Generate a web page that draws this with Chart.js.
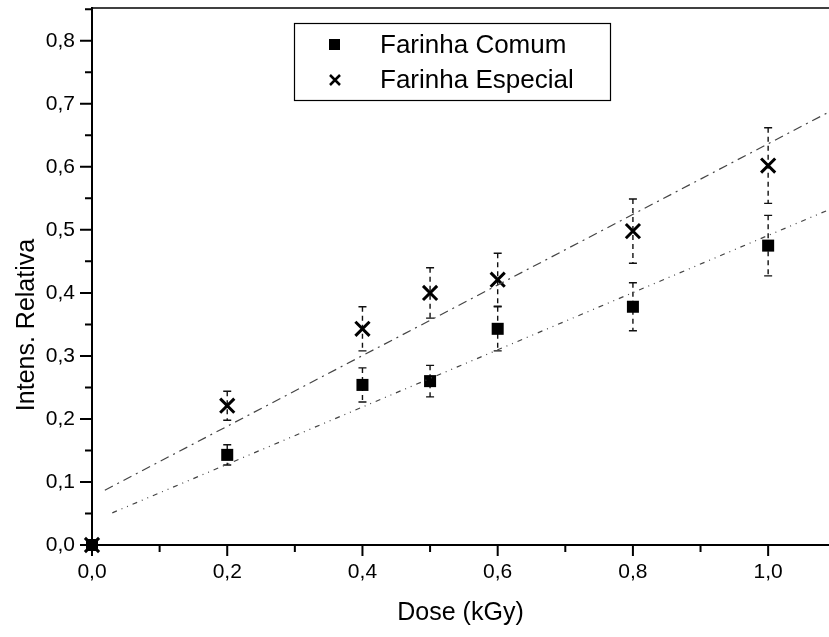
<!DOCTYPE html>
<html>
<head>
<meta charset="utf-8">
<script src="https://cdn.jsdelivr.net/npm/chart.js@4/dist/chart.umd.min.js"></script>
<style>
  html, body { margin: 0; padding: 0; background: #fff; }
  #wrap { width: 829px; height: 637px; position: relative; }
</style>
</head>
<body>
<div id="wrap"><canvas id="chart"></canvas></div>
<script>
// Data
const doses = [0.0, 0.2, 0.4, 0.5, 0.6, 0.8, 1.0];
const comumValues = [0.0, 0.143, 0.254, 0.260, 0.343, 0.378, 0.475];
const comumErrors = [0.0, 0.016, 0.027, 0.025, 0.035, 0.038, 0.048];
const especialValues = [0.0, 0.221, 0.343, 0.400, 0.421, 0.498, 0.602];
const especialErrors = [0.0, 0.023, 0.035, 0.040, 0.042, 0.051, 0.060];

// Linear fits (end points as drawn)
const fitComumX = [0.03, 1.09];
const fitComumY = [0.051, 0.532];
const fitEspecialX = [0.019, 1.09];
const fitEspecialY = [0.087, 0.687];

const seriesLabels = ["Farinha Comum", "Farinha Especial"];
const xTitle = "Dose (kGy)";
const yTitle = "Intens. Relativa";

const FONT = "'Liberation Sans', Arial, sans-serif";

const pts = (xs, ys) => xs.map((x, i) => ({ x: x, y: ys[i] }));
const comma = v => v.toFixed(1).replace(".", ",");

// error bars, drawn under the markers
const errorBars = {
    id: "errorBars",
    beforeDatasetsDraw(chart) {
        const { ctx, scales: { x, y } } = chart;
        const sets = [[comumValues, comumErrors], [especialValues, especialErrors]];
        ctx.save();
        ctx.strokeStyle = "#111";
        ctx.lineWidth = 1.4;
        sets.forEach(([vals, errs]) => {
            doses.forEach((d, i) => {
                if (!errs[i]) return;
                const px = x.getPixelForValue(d);
                const top = y.getPixelForValue(vals[i] + errs[i]);
                const bot = y.getPixelForValue(vals[i] - errs[i]);
                ctx.setLineDash([5, 4]);
                ctx.beginPath();
                ctx.moveTo(px, top);
                ctx.lineTo(px, bot);
                ctx.stroke();
                ctx.setLineDash([]);
                ctx.beginPath();
                ctx.moveTo(px - 4, top); ctx.lineTo(px + 4, top);
                ctx.moveTo(px - 4, bot); ctx.lineTo(px + 4, bot);
                ctx.stroke();
            });
        });
        ctx.restore();
    }
};

// frame, tick marks, y title and legend box
const decorations = {
    id: "decorations",
    afterDraw(chart) {
        const { ctx, chartArea: a, scales: { x, y } } = chart;
        ctx.save();
        ctx.strokeStyle = "#000";

        // top frame
        ctx.lineWidth = 1.5;
        ctx.beginPath();
        ctx.moveTo(a.left, a.top);
        ctx.lineTo(a.right, a.top);
        ctx.stroke();

        // tick marks
        ctx.lineWidth = 2;
        ctx.beginPath();
        x.ticks.forEach(t => {
            const px = x.getPixelForValue(t.value);
            const major = Math.round(t.value * 100) % 20 === 0;
            ctx.moveTo(px, a.bottom);
            ctx.lineTo(px, a.bottom + (major ? 11 : 7));
        });
        y.ticks.forEach(t => {
            const py = y.getPixelForValue(t.value);
            const major = Math.round(t.value * 100) % 10 === 0;
            ctx.moveTo(a.left, py);
            ctx.lineTo(a.left - (major ? 12 : 7), py);
        });
        ctx.stroke();

        // y title
        ctx.fillStyle = "#000";
        ctx.font = "25px " + FONT;
        ctx.textAlign = "center";
        ctx.textBaseline = "middle";
        ctx.translate(27, 325);
        ctx.rotate(-Math.PI / 2);
        ctx.fillText(yTitle, 0, 0);
        ctx.setTransform(1, 0, 0, 1, 0, 0);

        // legend
        ctx.lineWidth = 1.2;
        ctx.strokeRect(294.5, 23.5, 316, 77);
        ctx.fillRect(329, 39, 11, 11);
        ctx.lineWidth = 2.5;
        ctx.beginPath();
        ctx.moveTo(330, 75); ctx.lineTo(340, 85);
        ctx.moveTo(340, 75); ctx.lineTo(330, 85);
        ctx.stroke();
        ctx.font = "26px " + FONT;
        ctx.textAlign = "left";
        ctx.fillText(seriesLabels[0], 380, 46);
        ctx.fillText(seriesLabels[1], 380, 81);
        ctx.restore();
    }
};

const fitLineStyle = {
    type: "line",
    showLine: true,
    pointRadius: 0,
    borderColor: "#444",
    borderWidth: 1.2,
    fill: false
};

new Chart(document.getElementById("chart"), {
    type: "scatter",
    data: {
        datasets: [
            Object.assign({ data: pts(fitComumX, fitComumY), borderDash: [5, 5, 1, 5, 1, 5] }, fitLineStyle),
            Object.assign({ data: pts(fitEspecialX, fitEspecialY), borderDash: [9, 5, 2, 5] }, fitLineStyle),
            {
                label: seriesLabels[0],
                data: pts(doses, comumValues),
                pointStyle: "rect",
                pointRadius: 8.5,
                pointHoverRadius: 8.5,
                backgroundColor: "#000",
                borderColor: "#000",
                borderWidth: 0,
                clip: false
            },
            {
                label: seriesLabels[1],
                data: pts(doses, especialValues),
                pointStyle: "crossRot",
                pointRadius: 10,
                pointHoverRadius: 10,
                borderColor: "#000",
                borderWidth: 3,
                clip: false
            }
        ]
    },
    options: {
        responsive: true,
        maintainAspectRatio: false,
        animation: false,
        layout: { autoPadding: false, padding: { top: 8, right: 0, left: 0, bottom: 0 } },
        plugins: { legend: { display: false }, tooltip: { enabled: false } },
        scales: {
            x: {
                type: "linear",
                min: 0,
                max: 1.09,
                border: { display: true, color: "#000", width: 2 },
                grid: { display: false, drawTicks: false },
                ticks: {
                    stepSize: 0.1,
                    includeBounds: false,
                    autoSkip: false,
                    maxRotation: 0,
                    padding: 15,
                    color: "#000",
                    font: { family: FONT, size: 21 },
                    callback: v => (Math.round(v * 100) % 20 === 0 ? comma(v) : "")
                },
                title: {
                    display: true,
                    text: xTitle,
                    color: "#000",
                    font: { family: FONT, size: 25 },
                    padding: { top: 0, bottom: 9 }
                },
                afterFit: s => { s.height = 92; s.paddingLeft = 0; s.paddingRight = 0; }
            },
            y: {
                type: "linear",
                min: 0,
                max: 0.852,
                border: { display: true, color: "#000", width: 2 },
                grid: { display: false, drawTicks: false },
                ticks: {
                    stepSize: 0.05,
                    includeBounds: false,
                    autoSkip: false,
                    padding: 17,
                    color: "#000",
                    font: { family: FONT, size: 21 },
                    callback: v => (Math.round(v * 100) % 10 === 0 ? comma(v) : "")
                },
                afterFit: s => { s.width = 92; s.paddingTop = 0; s.paddingBottom = 0; }
            }
        }
    },
    plugins: [errorBars, decorations]
});
</script>
</body>
</html>
